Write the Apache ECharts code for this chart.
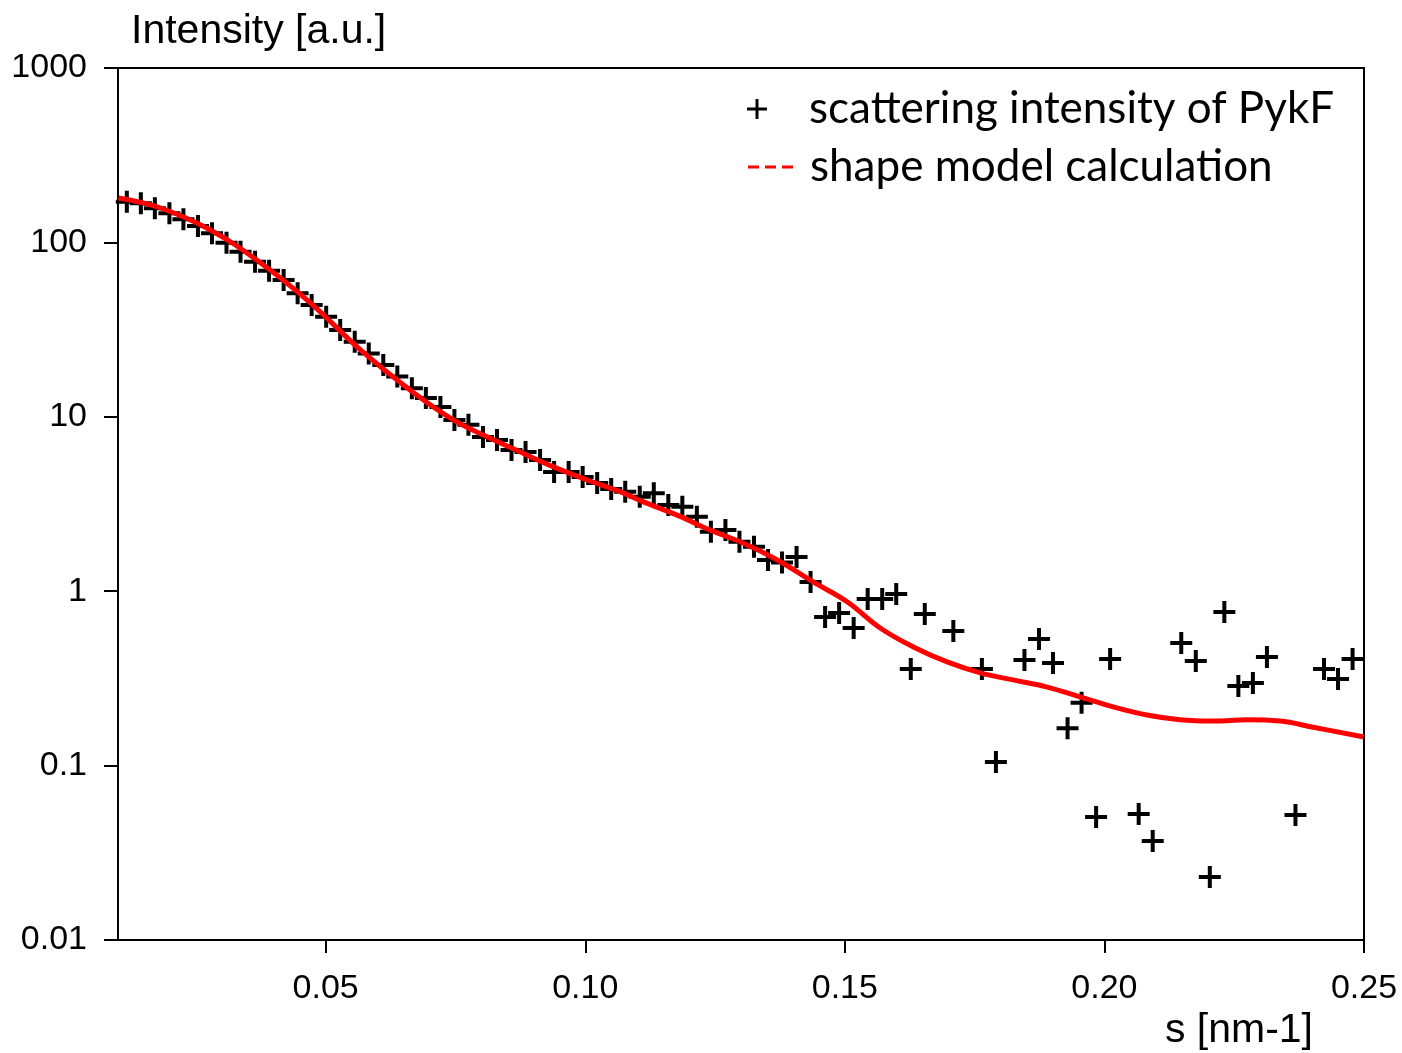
<!DOCTYPE html>
<html>
<head>
<meta charset="utf-8">
<style>
  html, body { margin: 0; padding: 0; background: #fff; }
  #chart { width: 1402px; height: 1053px; }
</style>
</head>
<body>
<div id="chart"></div>
<script src="https://cdn.jsdelivr.net/npm/echarts@6/dist/echarts.min.js"></script>
<script>
// measured points (s in nm-1, intensity in a.u.)
var sMeasured = [
  0.0117, 0.0144, 0.0171, 0.0199, 0.0226, 0.0254, 0.0281, 0.0309, 0.0336, 0.0364,
  0.0391, 0.0419, 0.0446, 0.0473, 0.0501, 0.0528, 0.0556, 0.0583, 0.0611, 0.0638,
  0.0666, 0.0693, 0.0721, 0.0748, 0.0775, 0.0803, 0.0830, 0.0858, 0.0885, 0.0913,
  0.0940, 0.0968, 0.0995, 0.1023, 0.1050, 0.1077, 0.1105, 0.1132, 0.1160, 0.1187,
  0.1215, 0.1242, 0.1270, 0.1297, 0.1325, 0.1352, 0.1379, 0.1407, 0.1434, 0.1462,
  0.1489, 0.1517, 0.1544, 0.1572, 0.1599, 0.1627, 0.1654, 0.1709, 0.1764, 0.1791,
  0.1846, 0.1874, 0.1901, 0.1929, 0.1956, 0.1984, 0.2011, 0.2066, 0.2093, 0.2148,
  0.2176, 0.2203, 0.2231, 0.2258, 0.2286, 0.2313, 0.2368, 0.2423, 0.2450, 0.2478
];
var iMeasured = [
  171, 167.5, 156.9, 146.9, 135.7, 124.2, 112.8, 99.6, 88.4, 77.5,
  68.8, 60.9, 51.1, 43.8, 37.5, 31.5, 26.9, 23.1, 19.8, 17.0,
  14.6, 12.8, 11.4, 9.6, 9.0, 7.66, 7.36, 6.45, 6.28, 5.65,
  4.83, 4.83, 4.52, 4.17, 3.85, 3.72, 3.48, 3.64, 3.12, 3.05,
  2.67, 2.19, 2.24, 1.92, 1.80, 1.51, 1.46, 1.57, 1.13, 0.711,
  0.750, 0.615, 0.902, 0.902, 0.964, 0.358, 0.740, 0.591, 0.358, 0.105,
  0.403, 0.532, 0.388, 0.164, 0.229, 0.0507, 0.409, 0.0528, 0.0370, 0.505,
  0.398, 0.0230, 0.760, 0.286, 0.298, 0.419, 0.0521, 0.358, 0.314, 0.409
];

// shape model curve
var sModel = [
  0.0101, 0.0182, 0.0278, 0.0375, 0.0471, 0.0567, 0.0663, 0.0746, 0.0812, 0.0875,
  0.0939, 0.1004, 0.1068, 0.1112, 0.1177, 0.1241, 0.1304, 0.1370, 0.1439, 0.1505,
  0.1568, 0.1632, 0.1697, 0.1761, 0.1824, 0.1890, 0.1954, 0.2017, 0.2082, 0.2146,
  0.2209, 0.2275, 0.2338, 0.2402, 0.2500
];
var iModel = [
  179.7, 157.5, 117.8, 76.2, 44.9, 24.2, 14.2, 9.59, 7.66, 6.28,
  5.16, 4.34, 3.71, 3.25, 2.73, 2.24, 1.89, 1.51, 1.13, 0.867,
  0.615, 0.479, 0.393, 0.340, 0.310, 0.282, 0.247, 0.217, 0.195, 0.183,
  0.180, 0.183, 0.180, 0.166, 0.146
];

var xTicks = [0.05, 0.10, 0.15, 0.20, 0.25];

var plusIcon = 'path://M9,0H13V9H22V13H13V22H9V13H0V9H9Z';
var plusIconThin = 'path://M8.5,0H11.5V8.5H20V11.5H11.5V20H8.5V11.5H0V8.5H8.5Z';
var dashIcon = 'path://M0,0H11V3H0Z M17,0H28V3H17Z M34,0H45V3H34Z';

var chart = echarts.init(document.getElementById('chart'));

var axisFont = { fontFamily: 'Liberation Sans, Arial, sans-serif', fontSize: 34, color: '#000' };
var legendFont = { fontFamily: 'Lato, sans-serif', fontSize: 44, color: '#000' };

chart.setOption({
  animation: false,
  backgroundColor: '#fff',
  grid: {
    left: 118, right: 38, top: 68, bottom: 113,
    show: true, borderColor: '#000', borderWidth: 2
  },
  legend: [
    {
      data: [{ name: 'scattering intensity of PykF', icon: plusIconThin }],
      left: 742, top: 82,
      itemWidth: 20, itemHeight: 20,
      textStyle: Object.assign({ padding: [0, 0, 0, 37] }, legendFont),
      selectedMode: false
    },
    {
      data: [{ name: 'shape model calculation', icon: dashIcon }],
      left: 743, top: 140,
      itemWidth: 45, itemHeight: 3,
      textStyle: Object.assign({ padding: [0, 0, 0, 12] }, legendFont),
      selectedMode: false
    }
  ],
  xAxis: {
    type: 'value',
    min: 0.01, max: 0.25,
    name: 's [nm-1]',
    nameLocation: 'end',
    nameGap: -51,
    nameTextStyle: {
      fontFamily: 'Liberation Sans, Arial, sans-serif', fontSize: 41, color: '#000',
      align: 'right', verticalAlign: 'top', padding: [70, 0, 0, 0]
    },
    splitLine: { show: false },
    axisLine: { onZero: false, lineStyle: { color: '#000', width: 2 } },
    axisTick: { inside: false, length: 13, customValues: xTicks, lineStyle: { color: '#000', width: 2 } },
    axisLabel: Object.assign({
      margin: 32,
      customValues: xTicks,
      formatter: function (v) { return v.toFixed(2); }
    }, axisFont)
  },
  yAxis: {
    type: 'log',
    logBase: 10,
    min: 0.01, max: 1000,
    name: 'Intensity [a.u.]',
    nameLocation: 'end',
    nameGap: 16,
    nameTextStyle: {
      fontFamily: 'Liberation Sans, Arial, sans-serif', fontSize: 41, color: '#000',
      align: 'left', padding: [0, 0, 0, 13]
    },
    splitLine: { show: false },
    axisLine: { lineStyle: { color: '#000', width: 2 } },
    axisTick: { inside: false, length: 14, lineStyle: { color: '#000', width: 2 } },
    axisLabel: Object.assign({
      margin: 31,
      formatter: function (v) {
        var map = { '1000': '1000', '100': '100', '10': '10', '1': '1', '0.1': '0.1', '0.01': '0.01' };
        var k = String(+v.toPrecision(3));
        return map[k] !== undefined ? map[k] : k;
      }
    }, axisFont)
  },
  series: [
    {
      name: 'scattering intensity of PykF',
      type: 'scatter',
      symbol: plusIcon,
      symbolSize: 22,
      itemStyle: { color: '#000', opacity: 1 },
      z: 2,
      data: sMeasured.map(function (s, i) { return [s, iMeasured[i]]; })
    },
    {
      name: 'shape model calculation',
      type: 'line',
      smooth: 0.4,
      showSymbol: false,
      symbol: 'none',
      lineStyle: { color: '#ff0000', width: 5 },
      itemStyle: { color: '#ff0000' },
      z: 3,
      data: sModel.map(function (s, i) { return [s, iModel[i]]; })
    }
  ]
});
</script>
</body>
</html>
